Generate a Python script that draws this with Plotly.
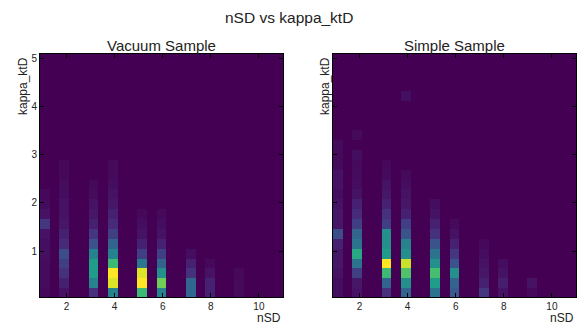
import plotly.graph_objects as go
import numpy as np

# bin edges (nSD on x, kappa_ktD on y)
x_start, x_width, n_x = 0.9, 0.404, 25
y_start, y_width, n_y = 0.025, 0.205, 25

# Vacuum sample: column index -> normalized counts from bottom row upward
vac_col_idx = [0, 2, 5, 7, 10, 12, 15, 17, 20]
vac_cols = [
    [0.02, 0.03, 0.03, 0.03, 0.04, 0.04, 0.05, 0.16, 0.05, 0.03, 0.02],
    [0.05, 0.09, 0.14, 0.19, 0.24, 0.12, 0.09, 0.06, 0.05, 0.05, 0.035, 0.03, 0.02, 0.02],
    [0.14, 0.45, 0.55, 0.55, 0.45, 0.26, 0.16, 0.09, 0.06, 0.05, 0.03, 0.02],
    [0.45, 0.95, 1.00, 0.68, 0.45, 0.32, 0.19, 0.12, 0.09, 0.06, 0.05, 0.035, 0.025, 0.025],
    [0.68, 1.00, 0.95, 0.40, 0.19, 0.09, 0.05, 0.035, 0.02],
    [0.45, 0.78, 0.50, 0.32, 0.19, 0.09, 0.05, 0.035, 0.02],
    [0.33, 0.33, 0.14, 0.09, 0.035],
    [0.09, 0.09, 0.05, 0.02],
    [0.025, 0.025, 0.02],
]

# Simple sample
sim_col_idx = [0, 2, 5, 7, 10, 12, 15, 17, 20]
sim_cols = [
    [0.035, 0.035, 0.05, 0.06, 0.06, 0.09, 0.24, 0.06, 0.06, 0.05, 0.035, 0.05, 0.05, 0.025, 0.025, 0.025],
    [0.05, 0.06, 0.19, 0.38, 0.60, 0.38, 0.32, 0.19, 0.12, 0.09, 0.05, 0.035, 0.03, 0.025, 0.035, 0.0, 0.025],
    [0.14, 0.32, 0.68, 1.00, 0.55, 0.50, 0.50, 0.19, 0.14, 0.09, 0.06, 0.05, 0.025, 0.02],
    [0.32, 0.50, 0.72, 0.92, 0.50, 0.45, 0.26, 0.19, 0.09, 0.06, 0.05, 0.035, 0.025, 0.0, 0.0, 0.0, 0.0, 0.0, 0.0, 0.0, 0.04],
    [0.38, 0.55, 0.70, 0.50, 0.38, 0.26, 0.14, 0.09, 0.05, 0.035],
    [0.28, 0.32, 0.50, 0.26, 0.16, 0.09, 0.05, 0.025],
    [0.16, 0.09, 0.06, 0.05, 0.035, 0.02],
    [0.05, 0.08, 0.05, 0.035],
    [0.02, 0.05],
]

x_ticks = [2, 4, 6, 8, 10]
y_ticks = [1, 2, 3, 4, 5]


def build_grid(col_idx, cols):
    z = np.zeros((n_y, n_x))
    for k, vals in zip(col_idx, cols):
        for r, v in enumerate(vals):
            z[r, k] = v
    return z


x_edges = [x_start + x_width * i for i in range(n_x + 1)]
y_edges = [y_start + y_width * i for i in range(n_y + 1)]

fig = go.Figure()
for i, (ci, cv) in enumerate([(vac_col_idx, vac_cols), (sim_col_idx, sim_cols)]):
    fig.add_trace(go.Heatmap(
        x=x_edges, y=y_edges, z=build_grid(ci, cv),
        colorscale="Viridis", zmin=0, zmax=1, showscale=False,
        xaxis="x" if i == 0 else "x2", yaxis="y" if i == 0 else "y2",
    ))

font = "Liberation Sans, Arial, sans-serif"
ax_common = dict(
    showline=True, linecolor="black", linewidth=1, mirror="ticks",
    ticks="inside", ticklen=4, tickcolor="black", showgrid=False, zeroline=False,
    tickfont=dict(size=10, color="#222", family=font),
)
fig.update_layout(
    width=578, height=324, margin=dict(l=0, r=0, t=0, b=0),
    paper_bgcolor="white", plot_bgcolor="#440154",
    xaxis=dict(domain=[0.0692, 0.4896], range=[0.9, 11.0], tickvals=x_ticks, anchor="y", **ax_common),
    yaxis=dict(domain=[0.0824, 0.8333], range=[0.04, 5.09], tickvals=y_ticks, anchor="x", **ax_common),
    xaxis2=dict(domain=[0.5761, 0.9965], range=[0.9, 11.0], tickvals=x_ticks, anchor="y2", **ax_common),
    yaxis2=dict(domain=[0.0824, 0.8333], range=[0.04, 5.09], tickvals=y_ticks, showticklabels=False,
                anchor="x2", **ax_common),
    showlegend=False,
)

anns = [
    dict(text="nSD vs kappa_ktD", x=0.5, y=1 - 17 / 324, size=15.5, angle=0, xa="center", ya="middle"),
    dict(text="Vacuum Sample", x=(40 + 283) / 2 / 578, y=1 - 46 / 324, size=15, angle=0, xa="center", ya="middle"),
    dict(text="Simple Sample", x=(333 + 576) / 2 / 578, y=1 - 46 / 324, size=15, angle=0, xa="center", ya="middle"),
    dict(text="nSD", x=283 / 578, y=1 - 318 / 324, size=12, angle=0, xa="right", ya="middle"),
    dict(text="nSD", x=576 / 578, y=1 - 318 / 324, size=12, angle=0, xa="right", ya="middle"),
    dict(text="kappa_ktD", x=23 / 578, y=1 - 55 / 324, size=12, angle=-90, xa="center", ya="top"),
    dict(text="kappa_ktD", x=325 / 578, y=1 - 55 / 324, size=12, angle=-90, xa="center", ya="top"),
]
for a in anns:
    fig.add_annotation(text=a["text"], x=a["x"], y=a["y"], xref="paper", yref="paper",
                       showarrow=False, textangle=a["angle"], xanchor=a["xa"], yanchor=a["ya"],
                       font=dict(size=a["size"], color="#222", family=font))

fig.write_html("out.html")
